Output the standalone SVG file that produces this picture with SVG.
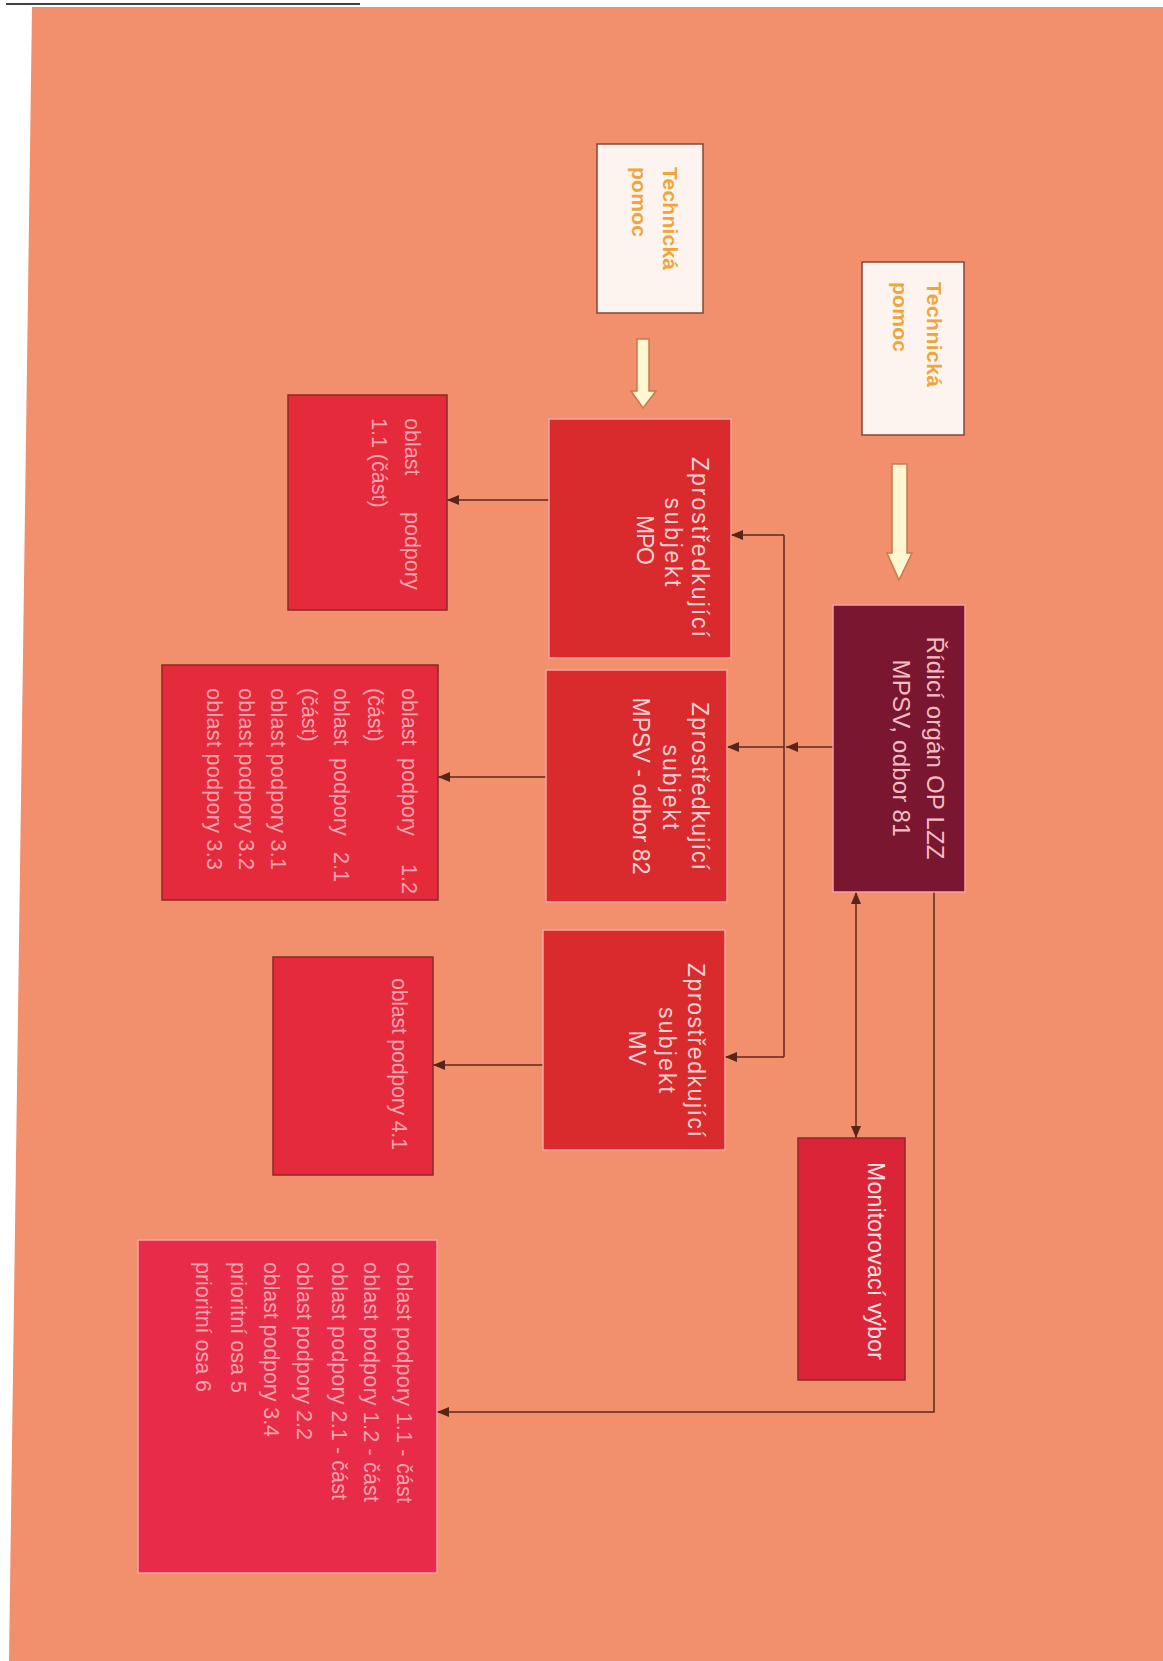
<svg xmlns="http://www.w3.org/2000/svg" width="1163" height="1661" viewBox="0 0 1163 1661">
<defs>
<style>
.bg{fill:#f28f6d}
.tpbox{fill:#fdf4ef;stroke:#8a4434;stroke-width:1.5}
.tptx{font-family:"Liberation Sans",Arial,sans-serif;font-weight:bold;font-size:21px;fill:#eea53c}
.ro{fill:#7b1630;stroke:#f7a0a4;stroke-width:1.5}
.zs{fill:#d92a2e;stroke:#f6a4a0;stroke-width:1.5}
.op{fill:#e52a3c;stroke:#8a2a2a;stroke-width:1.5}
.opl{fill:#e82b48;stroke:#f6a4a8;stroke-width:1.5}
.mon{fill:#dc2438;stroke:#8a2a2a;stroke-width:1.5}
.rtx{font-family:"Liberation Sans",Arial,sans-serif;font-size:24px;fill:#f7bcc6}
.ztx{font-family:"Liberation Sans",Arial,sans-serif;font-size:23px;fill:#fbd2d2}
.otx{font-family:"Liberation Sans",Arial,sans-serif;font-size:21.5px;fill:#f7a4b0}
.mtx{font-family:"Liberation Sans",Arial,sans-serif;font-size:23px;fill:#fbe2e2}
.ln{fill:none;stroke:#5a2a1e;stroke-width:1.5}
.blk{fill:#fff7d2;stroke:#c97a48;stroke-width:1.5}
</style>
<marker id="ah" viewBox="0 0 12 10" refX="12" refY="5" markerWidth="12" markerHeight="10" markerUnits="userSpaceOnUse" orient="auto-start-reverse">
<path d="M0,0 L12,5 L0,10 z" fill="#5a2418"/>
</marker>
</defs>

<polygon class="bg" points="32,7 1163,7 1163,1661 9,1661"/>
<line x1="6" y1="4" x2="360" y2="4" stroke="#000" stroke-width="1.5"/>

<g id="connectors">
<polygon class="blk" points="637,339 649,339 649,391 656,391 643,408 631,391 637,391"/>
<polygon class="blk" points="892,464 907,464 907,553 912,553 899,580 887,553 892,553"/>
<line class="ln" x1="833" y1="747" x2="786" y2="747" marker-end="url(#ah)"/>
<line class="ln" x1="784" y1="535" x2="784" y2="1057"/>
<line class="ln" x1="784" y1="535" x2="731" y2="535" marker-end="url(#ah)"/>
<line class="ln" x1="784" y1="747" x2="727" y2="747" marker-end="url(#ah)"/>
<line class="ln" x1="784" y1="1057" x2="725" y2="1057" marker-end="url(#ah)"/>
<line class="ln" x1="549" y1="500" x2="447" y2="500" marker-end="url(#ah)"/>
<line class="ln" x1="546" y1="777" x2="438" y2="777" marker-end="url(#ah)"/>
<line class="ln" x1="543" y1="1065" x2="433" y2="1065" marker-end="url(#ah)"/>
<line class="ln" x1="856" y1="892" x2="856" y2="1138" marker-start="url(#ah)" marker-end="url(#ah)"/>
<polyline class="ln" points="934,892 934,1412 437,1412" marker-end="url(#ah)"/>
</g>

<g id="tp1">
<rect class="tpbox" x="597" y="144" width="106" height="169"/>
<text class="tptx" x="663" y="167" transform="rotate(90 663 167)" textLength="103">Technická</text>
<text class="tptx" x="632" y="167" transform="rotate(90 632 167)" textLength="70">pomoc</text>
</g>

<g id="tp2">
<rect class="tpbox" x="862" y="262" width="102" height="173"/>
<text class="tptx" x="927" y="282" transform="rotate(90 927 282)" textLength="105">Technická</text>
<text class="tptx" x="893" y="282" transform="rotate(90 893 282)" textLength="70">pomoc</text>
</g>

<g id="ridici">
<rect class="ro" x="833" y="605" width="132" height="287"/>
<text class="rtx" x="927" y="748" text-anchor="middle" transform="rotate(90 927 748)" textLength="223">Řídicí orgán OP LZZ</text>
<text class="rtx" x="893" y="748" text-anchor="middle" transform="rotate(90 893 748)" textLength="177">MPSV, odbor 81</text>
</g>

<g id="zs-mpo">
<rect class="zs" x="549" y="419" width="182" height="239"/>
<text class="ztx" x="692" y="547" text-anchor="middle" transform="rotate(90 692 547)" textLength="180">Zprostředkující</text>
<text class="ztx" x="665" y="542" text-anchor="middle" transform="rotate(90 665 542)" textLength="89">subjekt</text>
<text class="ztx" x="637" y="540" text-anchor="middle" transform="rotate(90 637 540)" textLength="50">MPO</text>
</g>

<g id="zs-mpsv">
<rect class="zs" x="546" y="670" width="181" height="232"/>
<text class="ztx" x="692" y="786" text-anchor="middle" transform="rotate(90 692 786)" textLength="168">Zprostředkující</text>
<text class="ztx" x="663" y="787" text-anchor="middle" transform="rotate(90 663 787)" textLength="85">subjekt</text>
<text class="ztx" x="633" y="786" text-anchor="middle" transform="rotate(90 633 786)" textLength="177">MPSV - odbor 82</text>
</g>

<g id="zs-mv">
<rect class="zs" x="543" y="930" width="182" height="220"/>
<text class="ztx" x="688" y="1050" text-anchor="middle" transform="rotate(90 688 1050)" textLength="174">Zprostředkující</text>
<text class="ztx" x="659" y="1050" text-anchor="middle" transform="rotate(90 659 1050)" textLength="86">subjekt</text>
<text class="ztx" x="629" y="1048" text-anchor="middle" transform="rotate(90 629 1048)" textLength="35">MV</text>
</g>

<g id="op11">
<rect class="op" x="288" y="395" width="159" height="215"/>
<text class="otx" x="405" y="418" transform="rotate(90 405 418)"><tspan x="405">oblast</tspan><tspan x="499">podpory</tspan></text>
<text class="otx" x="372" y="418" transform="rotate(90 372 418)">1.1 (část)</text>
</g>

<g id="op12">
<rect class="op" x="162" y="665" width="276" height="235"/>
<text class="otx" x="402" y="688" transform="rotate(90 402 688)"><tspan x="402">oblast</tspan><tspan x="472">podpory</tspan><tspan x="578">1.2</tspan></text>
<text class="otx" x="368" y="688" transform="rotate(90 368 688)">(část)</text>
<text class="otx" x="334" y="688" transform="rotate(90 334 688)"><tspan x="334">oblast</tspan><tspan x="404">podpory</tspan><tspan x="498">2.1</tspan></text>
<text class="otx" x="302" y="688" transform="rotate(90 302 688)">(část)</text>
<text class="otx" x="271" y="688" transform="rotate(90 271 688)" textLength="182">oblast podpory 3.1</text>
<text class="otx" x="239" y="688" transform="rotate(90 239 688)" textLength="182">oblast podpory 3.2</text>
<text class="otx" x="207" y="688" transform="rotate(90 207 688)" textLength="182">oblast podpory 3.3</text>
</g>

<g id="op41">
<rect class="op" x="273" y="957" width="160" height="218"/>
<text class="otx" x="392" y="978" transform="rotate(90 392 978)" textLength="172">oblast podpory 4.1</text>
</g>

<g id="monitor">
<rect class="mon" x="798" y="1138" width="107" height="242"/>
<text class="mtx" x="868" y="1162" transform="rotate(90 868 1162)" textLength="198">Monitorovací výbor</text>
</g>

<g id="op-big">
<rect class="opl" x="138" y="1240" width="299" height="333"/>
<text class="otx" x="397" y="1262" transform="rotate(90 397 1262)" textLength="241">oblast podpory 1.1 - část</text>
<text class="otx" x="364" y="1262" transform="rotate(90 364 1262)" textLength="240">oblast podpory 1.2 - část</text>
<text class="otx" x="332" y="1262" transform="rotate(90 332 1262)" textLength="238">oblast podpory 2.1 - část</text>
<text class="otx" x="297" y="1262" transform="rotate(90 297 1262)" textLength="178">oblast podpory 2.2</text>
<text class="otx" x="264" y="1262" transform="rotate(90 264 1262)" textLength="175">oblast podpory 3.4</text>
<text class="otx" x="231" y="1262" transform="rotate(90 231 1262)" textLength="131">prioritní osa 5</text>
<text class="otx" x="196" y="1262" transform="rotate(90 196 1262)" textLength="130">prioritní osa 6</text>
</g>
</svg>
